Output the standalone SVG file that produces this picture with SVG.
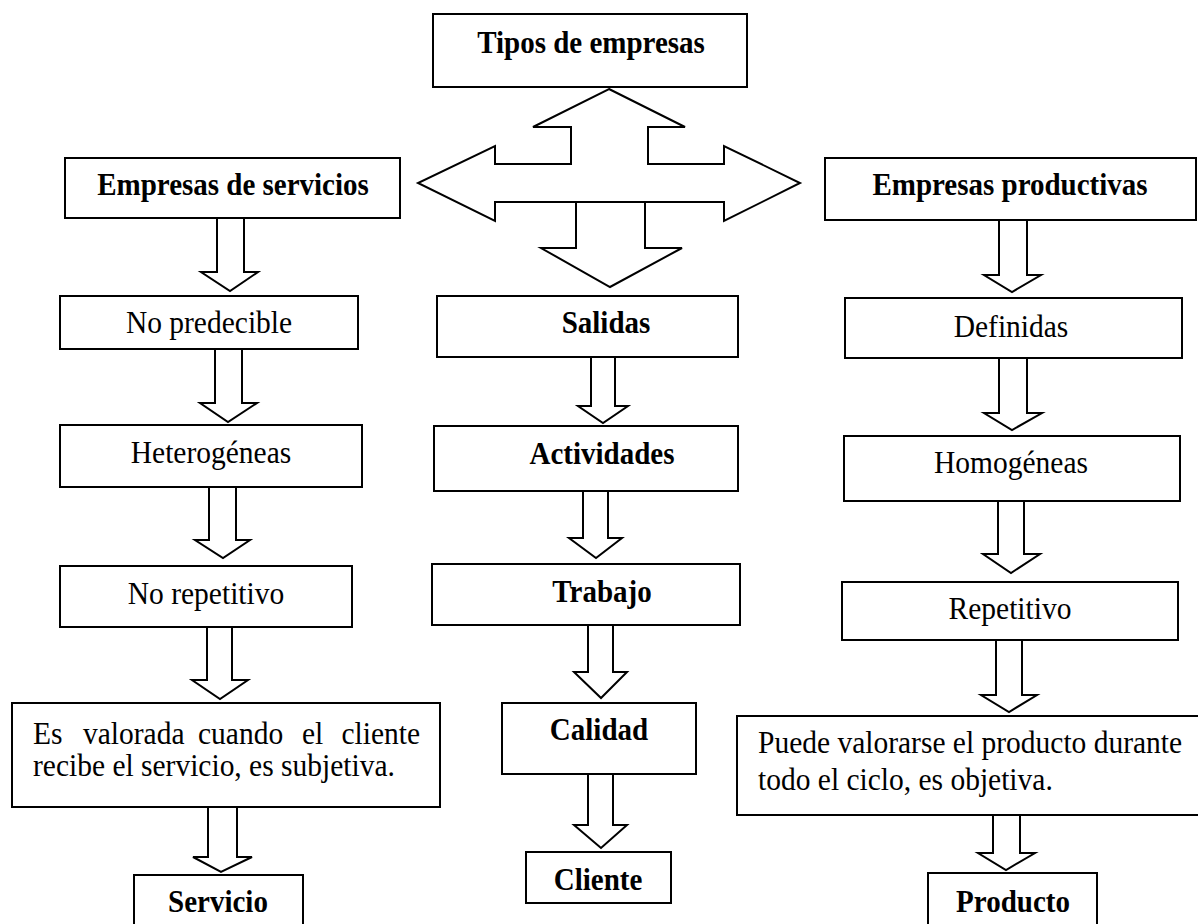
<svg xmlns="http://www.w3.org/2000/svg" width="1198" height="924" viewBox="0 0 1198 924">
  <style>
    .box { fill: #fff; stroke: #000; stroke-width: 2; }
    .arrow { fill: #fff; stroke: #000; stroke-width: 2; stroke-linejoin: miter; }
    text { font-family: "Liberation Serif", "Times New Roman", serif; font-size: 29.5px; fill: #000; }
    .b { font-weight: bold; font-size: 29px; }
    .c { text-anchor: middle; }
    .e { text-anchor: end; }
  </style>
  <rect width="1198" height="924" fill="#fff"/>

  <!-- connectors: hollow block arrows -->
  <g id="connectors">
    <!-- central four-way arrow: up / left / right part -->
    <polygon class="arrow" points="609,89 685,127 648,127 648,164 724,164 724,146 800,183 724,221 724,202 495,202 495,221 418,183 495,146 495,164 571,164 571,127 533,127"/>
    <!-- central four-way arrow: downward part -->
    <polygon class="arrow" points="576,202 645,202 645,248 682,248 610,287 541,248 576,248"/>

    <!-- left column -->
    <polygon class="arrow" points="217,218 244,218 244,272 258,272 230,291 201,272 217,272"/>
    <polygon class="arrow" points="215,349 242,349 242,403 257,403 228,422 200,403 215,403"/>
    <polygon class="arrow" points="209,487 236,487 236,540 250,540 223,558 195,540 209,540"/>
    <polygon class="arrow" points="207,627 232,627 232,680 248,680 220,699 192,680 207,680"/>
    <polygon class="arrow" points="208,807 237,807 237,857 252,857 221,872 193,857 208,857"/>

    <!-- middle column -->
    <polygon class="arrow" points="591,357 615,357 615,406 628,406 603,423 578,406 591,406"/>
    <polygon class="arrow" points="583,491 608,491 608,538 622,538 596,558 569,538 583,538"/>
    <polygon class="arrow" points="588,625 613,625 613,672 627,672 601,698 574,672 588,672"/>
    <polygon class="arrow" points="588,774 613,774 613,825 627,825 601,848 574,825 588,825"/>

    <!-- right column -->
    <polygon class="arrow" points="999,220 1027,220 1027,275 1041,275 1012,292 984,275 999,275"/>
    <polygon class="arrow" points="999,358 1027,358 1027,413 1042,413 1012,430 984,413 999,413"/>
    <polygon class="arrow" points="998,501 1024,501 1024,554 1040,554 1011,573 983,554 998,554"/>
    <polygon class="arrow" points="996,640 1022,640 1022,695 1037,695 1009,712 981,695 996,695"/>
    <polygon class="arrow" points="993,815 1020,815 1020,853 1035,853 1006,870 978,853 993,853"/>
  </g>

  <!-- top node (labels are drawn slightly taller than wide) -->
  <g id="tipos">
    <rect class="box" x="433" y="14" width="314" height="73"/>
    <text class="b c" transform="matrix(1 0 0 1.08 591 53)">Tipos de empresas</text>
  </g>

  <!-- service companies column -->
  <g id="servicios">
    <rect class="box" x="65" y="158" width="335" height="60"/>
    <text class="b c" transform="matrix(1 0 0 1.08 233 195)">Empresas de servicios</text>
  </g>
  <g id="no-predecible">
    <rect class="box" x="60" y="296" width="298" height="53"/>
    <text class="c" transform="matrix(1 0 0 1.08 209 333)">No predecible</text>
  </g>
  <g id="heterogeneas">
    <rect class="box" x="60" y="425" width="302" height="62"/>
    <text class="c" transform="matrix(1 0 0 1.08 211 463)">Heterogéneas</text>
  </g>
  <g id="no-repetitivo">
    <rect class="box" x="60" y="566" width="292" height="61"/>
    <text class="c" transform="matrix(1 0 0 1.08 206 604)">No repetitivo</text>
  </g>
  <g id="valorada-servicio">
    <rect class="box" x="12" y="703" width="428" height="104"/>
    <text transform="matrix(1 0 0 1.08 33 744)">Es</text>
    <text transform="matrix(1 0 0 1.08 83 744)">valorada</text>
    <text transform="matrix(1 0 0 1.08 198 744)">cuando</text>
    <text transform="matrix(1 0 0 1.08 302 744)">el</text>
    <text class="e" transform="matrix(1 0 0 1.08 420 744)">cliente</text>
    <text transform="matrix(1 0 0 1.08 33 776)">recibe el servicio, es subjetiva.</text>
  </g>
  <g id="servicio">
    <rect class="box" x="134" y="875" width="169" height="60"/>
    <text class="b c" transform="matrix(1 0 0 1.08 218 912)">Servicio</text>
  </g>

  <!-- middle column -->
  <g id="salidas">
    <rect class="box" x="437" y="296" width="301" height="61"/>
    <text class="b c" transform="matrix(1 0 0 1.08 606 333)">Salidas</text>
  </g>
  <g id="actividades">
    <rect class="box" x="434" y="426" width="304" height="65"/>
    <text class="b c" transform="matrix(1 0 0 1.08 602 464)">Actividades</text>
  </g>
  <g id="trabajo">
    <rect class="box" x="432" y="564" width="308" height="61"/>
    <text class="b c" transform="matrix(1 0 0 1.08 602 602)">Trabajo</text>
  </g>
  <g id="calidad">
    <rect class="box" x="502" y="703" width="194" height="71"/>
    <text class="b c" transform="matrix(1 0 0 1.08 599 740)">Calidad</text>
  </g>
  <g id="cliente">
    <rect class="box" x="526" y="852" width="145" height="51"/>
    <text class="b c" transform="matrix(1 0 0 1.08 598 890)">Cliente</text>
  </g>

  <!-- productive companies column -->
  <g id="productivas">
    <rect class="box" x="825" y="158" width="371" height="62"/>
    <text class="b c" transform="matrix(1 0 0 1.08 1010 195)">Empresas productivas</text>
  </g>
  <g id="definidas">
    <rect class="box" x="845" y="298" width="337" height="60"/>
    <text class="c" transform="matrix(1 0 0 1.08 1011 337)">Definidas</text>
  </g>
  <g id="homogeneas">
    <rect class="box" x="844" y="436" width="336" height="65"/>
    <text class="c" transform="matrix(1 0 0 1.08 1011 473)">Homogéneas</text>
  </g>
  <g id="repetitivo">
    <rect class="box" x="842" y="582" width="336" height="58"/>
    <text class="c" transform="matrix(1 0 0 1.08 1010 619)">Repetitivo</text>
  </g>
  <g id="valorada-producto">
    <rect class="box" x="737" y="716" width="470" height="99"/>
    <text transform="matrix(1 0 0 1.08 758 753)">Puede valorarse el producto durante</text>
    <text transform="matrix(1 0 0 1.08 758 790)">todo el ciclo, es objetiva.</text>
  </g>
  <g id="producto">
    <rect class="box" x="928" y="873" width="169" height="62"/>
    <text class="b c" transform="matrix(1 0 0 1.08 1013 912)">Producto</text>
  </g>
</svg>
